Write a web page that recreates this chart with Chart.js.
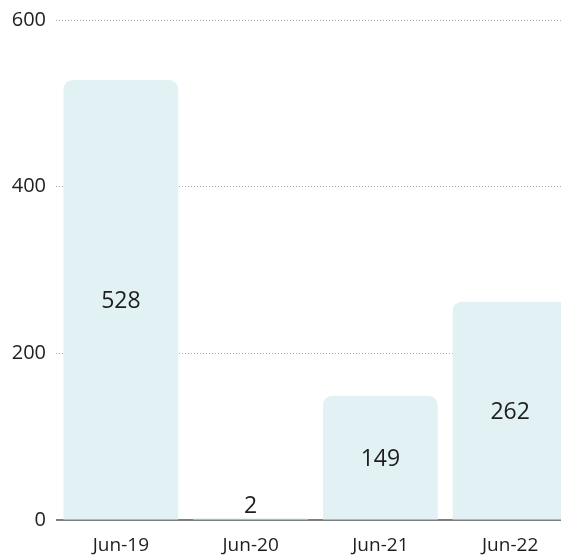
<!DOCTYPE html>
<html>
<head>
<meta charset="utf-8">
<script src="https://cdn.jsdelivr.net/npm/chart.js@4"></script>
<style>
html,body{margin:0;padding:0;background:#fff;overflow:hidden;}
#wrap{position:relative;width:576px;height:556px;}
</style>
</head>
<body>
<div id="wrap"><canvas id="c"></canvas></div>
<script>
const categories = ["Jun-19", "Jun-20", "Jun-21", "Jun-22"];
const values = [528, 2, 149, 262];
const yTicks = [0, 200, 400, 600];

const FONT = "'Open Sans', 'Noto Sans', sans-serif";

const valueLabels = {
  id: 'valueLabels',
  afterDatasetsDraw(chart) {
    const ctx = chart.ctx;
    const meta = chart.getDatasetMeta(0);
    ctx.save();
    ctx.font = "23px " + FONT;
    ctx.fillStyle = "#1e1e1e";
    ctx.textAlign = "center";
    ctx.textBaseline = "middle";
    meta.data.forEach((bar, i) => {
      const h = bar.base - bar.y;
      let y = h > 40 ? (bar.y + bar.base) / 2 + 2 : bar.y - 12;
      ctx.fillText(String(values[i]), bar.x, y);
    });
    ctx.restore();
  }
};

const zeroLine = {
  id: 'zeroLine',
  beforeDatasetsDraw(chart) {
    const {ctx, chartArea, scales} = chart;
    const y = scales.y.getPixelForValue(0);
    ctx.save();
    ctx.strokeStyle = "#555";
    ctx.lineWidth = 1.5;
    ctx.beginPath();
    ctx.moveTo(chartArea.left, y);
    ctx.lineTo(chartArea.right, y);
    ctx.stroke();
    ctx.restore();
  }
};

new Chart(document.getElementById('c'), {
  type: 'bar',
  data: {
    labels: categories,
    datasets: [{
      data: values,
      backgroundColor: 'rgb(226,242,244)',
      borderWidth: 0,
      borderRadius: {topLeft: 9, topRight: 9, bottomLeft: 0, bottomRight: 0},
      borderSkipped: false,
      barPercentage: 0.885,
      categoryPercentage: 1.0
    }]
  },
  options: {
    responsive: true,
    maintainAspectRatio: false,
    animation: false,
    layout: {padding: {top: 0, right: 1, left: 0, bottom: 0}},
    plugins: {legend: {display: false}, tooltip: {enabled: false}},
    scales: {
      x: {
        grid: {display: false, drawTicks: false},
        border: {display: false},
        ticks: {color: '#1e1e1e', font: {family: FONT, size: 19}, padding: 14},
        afterFit(s) { s.height = 36; }
      },
      y: {
        min: 0, max: 600,
        afterBuildTicks(s) { s.ticks = yTicks.map(v => ({value: v})); },
        grid: {
          color: ctx => ctx.tick && ctx.tick.value === 0 ? 'rgba(0,0,0,0)' : '#aaaaaa',
          lineWidth: 1,
          drawTicks: false
        },
        border: {display: false, dash: [1, 2]},
        ticks: {color: '#222', font: {family: FONT, size: 20, lineHeight: 1.0}, padding: 10},
        afterFit(s) { s.width = 56; }
      }
    }
  },
  plugins: [zeroLine, valueLabels]
});
</script>
</body>
</html>
